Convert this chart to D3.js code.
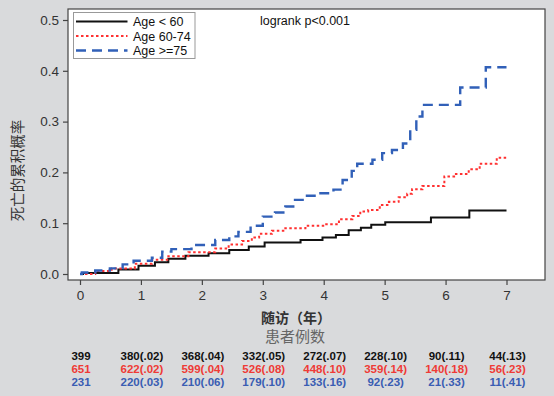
<html lang="zh">
<head>
  <meta charset="UTF-8"/>
  <title>KM curve by age</title>
  <script src="https://d3js.org/d3.v7.min.js"></script>
  <style>
body {
  margin: 0;
  background-color: #d9dadc;
  font-family: 'Liberation Sans', Arial, sans-serif;
}
svg {
  display: block;
}
.frame {
  fill: #fff;
  stroke: #444;
  stroke-width: 1.2;
}
.axis path {
  display: none;
}
.axis line {
  stroke: #444;
  stroke-width: 1.2;
}
.axis text {
  font-family: 'Liberation Sans', Arial, sans-serif;
  font-size: 13.5px;
  fill: #333;
}
.cjk {
  font-family: 'Noto Sans CJK SC', sans-serif;
}
.legend text, .pval {
  font-size: 12.5px;
  fill: #111;
}
.risk {
  font-size: 11.5px;
  font-weight: bold;
}
  </style>
</head>
<body>
<svg width="554" height="396"></svg>
<script>

// years shown on the axis and in the table
const years = [0, 1, 2, 3, 4, 5, 6, 7];
const yTicks = [0, 0.1, 0.2, 0.3, 0.4, 0.5];
const groups = ['Age < 60', 'Age 60-74', 'Age >=75'];

// step points [time, cumulative probability]
const curveLt60 = [[0,0],[0.05,0.002],[0.63,0.009],[0.96,0.016],[1.23,0.023],[1.45,0.030],[1.73,0.036],[2.11,0.041],[2.45,0.047],[2.77,0.054],[3.03,0.062],[3.62,0.067],[3.98,0.072],[4.20,0.077],[4.41,0.086],[4.61,0.091],[4.78,0.097],[5.01,0.102],[5.76,0.111],[6.39,0.125],[7.0,0.125]];
const curve6074 = [[0,0],[0.25,0.006],[0.52,0.011],[0.90,0.020],[1.18,0.028],[1.45,0.035],[1.78,0.043],[2.22,0.050],[2.44,0.058],[2.66,0.065],[2.82,0.072],[2.94,0.079],[3.15,0.085],[3.37,0.090],[3.70,0.095],[4.02,0.098],[4.25,0.108],[4.47,0.114],[4.60,0.123],[4.73,0.126],[4.92,0.136],[5.07,0.142],[5.23,0.151],[5.37,0.158],[5.45,0.167],[5.62,0.173],[5.98,0.192],[6.14,0.197],[6.38,0.206],[6.56,0.217],[6.84,0.229],[7.0,0.229]];
const curveGe75 = [[0,0],[0.03,0.003],[0.25,0.007],[0.49,0.011],[0.70,0.019],[0.88,0.026],[1.18,0.032],[1.35,0.044],[1.50,0.049],[1.83,0.057],[2.22,0.067],[2.45,0.074],[2.60,0.083],[2.80,0.095],[3.00,0.113],[3.20,0.121],[3.37,0.133],[3.50,0.146],[3.68,0.154],[3.92,0.159],[4.16,0.166],[4.31,0.185],[4.46,0.203],[4.55,0.217],[4.80,0.225],[4.96,0.238],[5.12,0.244],[5.30,0.257],[5.42,0.284],[5.52,0.310],[5.62,0.333],[6.24,0.367],[6.66,0.407],[7.0,0.407]];

// number at risk and cumulative probability at each year
const nLt60 = [399, 380, 368, 332, 272, 228, 90, 44];
const pLt60 = [null, 0.02, 0.04, 0.05, 0.07, 0.10, 0.11, 0.13];
const n6074 = [651, 622, 599, 526, 448, 359, 140, 56];
const p6074 = [null, 0.02, 0.04, 0.08, 0.10, 0.14, 0.18, 0.23];
const nGe75 = [231, 220, 210, 179, 133, 92, 21, 11];
const pGe75 = [null, 0.03, 0.06, 0.10, 0.16, 0.23, 0.33, 0.41];

const colors = ['#111111', '#ff3030', '#3160b8'];
const dashes = [null, '2.5 2.5', '10 6'];
const widths = [2, 2, 2.4];
const textColors = ['#111111', '#ef3a36', '#3a5db3'];

const svg = d3.select('svg');

const box = {left: 68, top: 9, right: 545, bottom: 280};

const x = d3.scaleLinear().domain([0, 7]).range([80, 506.5]);
const y = d3.scaleLinear().domain([0, 0.5]).range([274, 20]);

svg.append('rect')
  .attr('class', 'frame')
  .attr('x', box.left)
  .attr('y', box.top)
  .attr('width', box.right - box.left)
  .attr('height', box.bottom - box.top);

svg.append('g')
  .attr('class', 'axis')
  .attr('transform', `translate(${box.left}, 0)`)
  .call(d3.axisLeft(y).tickValues(yTicks).tickFormat(d3.format('.1f')).tickSize(5).tickPadding(4));

svg.append('g')
  .attr('class', 'axis')
  .attr('transform', `translate(0, ${box.bottom})`)
  .call(d3.axisBottom(x).tickValues(years).tickFormat(d3.format('d')).tickSize(5).tickPadding(5));

// curves
const line = d3.line()
  .x((d) => x(d[0]))
  .y((d) => y(d[1]))
  .curve(d3.curveStepAfter);

[curveLt60, curve6074, curveGe75].forEach((c, i) => {
  svg.append('path')
    .datum(c)
    .attr('d', line)
    .attr('fill', 'none')
    .attr('stroke', colors[i])
    .attr('stroke-width', widths[i])
    .attr('stroke-dasharray', dashes[i]);
});

// legend
const legend = svg.append('g').attr('class', 'legend');
legend.append('rect')
  .attr('x', 73.5)
  .attr('y', 12.5)
  .attr('width', 121.5)
  .attr('height', 46)
  .attr('fill', '#fff')
  .attr('stroke', '#999')
  .attr('stroke-width', 1);

groups.forEach((g, i) => {
  const ly = 21.5 + i * 14.5;
  legend.append('line')
    .attr('x1', 76)
    .attr('x2', 127.5)
    .attr('y1', ly)
    .attr('y2', ly)
    .attr('stroke', colors[i])
    .attr('stroke-width', widths[i])
    .attr('stroke-dasharray', dashes[i]);
  legend.append('text')
    .attr('x', 133)
    .attr('y', ly + 4.5)
    .text(g);
});

svg.append('text')
  .attr('class', 'pval')
  .attr('x', 260)
  .attr('y', 25)
  .text('logrank p<0.001');

// axis titles
svg.append('text')
  .attr('class', 'cjk')
  .attr('transform', 'translate(23, 170.5) rotate(-90)')
  .attr('text-anchor', 'middle')
  .attr('font-size', '14.5px')
  .attr('fill', '#333')
  .text('死亡的累积概率');

svg.append('text')
  .attr('class', 'cjk')
  .attr('x', 296)
  .attr('y', 323)
  .attr('text-anchor', 'middle')
  .attr('font-size', '14px')
  .attr('font-weight', 'bold')
  .attr('fill', '#333')
  .text('随访（年）');

svg.append('text')
  .attr('class', 'cjk')
  .attr('x', 295)
  .attr('y', 342)
  .attr('text-anchor', 'middle')
  .attr('font-size', '15px')
  .attr('fill', '#666')
  .text('患者例数');

// number at risk table
const fmt = (n, p) => p === null ? `${n}` : `${n}(${p.toFixed(2).slice(1)})`;
const rows = [[nLt60, pLt60], [n6074, p6074], [nGe75, pGe75]];

rows.forEach((r, i) => {
  svg.append('g')
    .selectAll('text')
    .data(years)
    .enter()
    .append('text')
    .attr('class', 'risk')
    .attr('x', (d) => x(d) + 1)
    .attr('y', 359.5 + i * 13.3)
    .attr('text-anchor', 'middle')
    .attr('fill', textColors[i])
    .text((d, j) => fmt(r[0][j], r[1][j]));
});

</script>
</body>
</html>
